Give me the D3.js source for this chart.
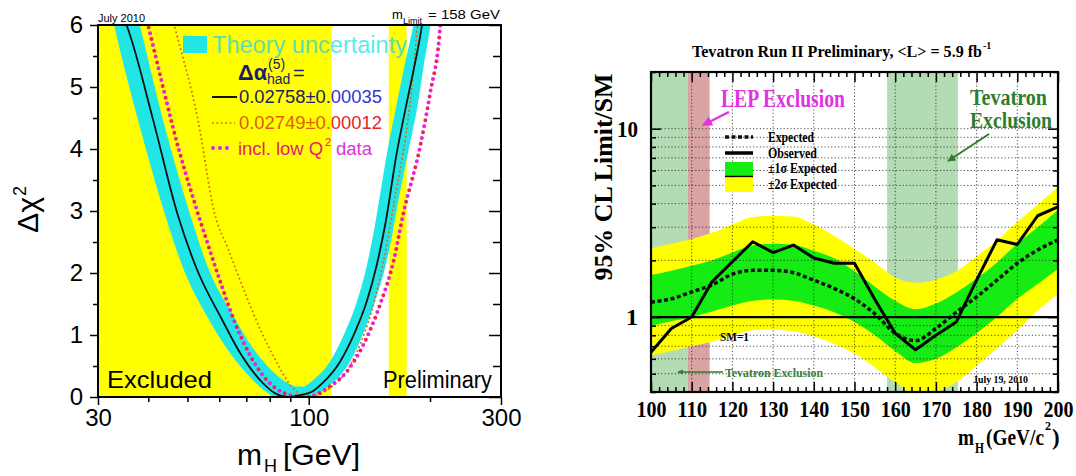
<!DOCTYPE html>
<html><head><meta charset="utf-8">
<script src="https://cdn.jsdelivr.net/npm/d3@7"></script>
<style>body{margin:0;background:#fff}svg{display:block}</style>
</head><body>
<svg id="c" width="1076" height="476"></svg>
<script>
// ================= LEFT CHART DATA (Δχ² vs mH) =================
const leftXTicks = [30, 100, 300];
const leftXMinor = [40, 50, 60, 70, 80, 90, 200];
const leftYTicks = [0, 1, 2, 3, 4, 5, 6];
const leftYMinor = [0.5, 1.5, 2.5, 3.5, 4.5, 5.5];
const excludedLEP = [30, 114];
const excludedTev = [158, 175];

const blackM   = [34.0, 35.3, 41.1, 47.2, 53.1, 60.7, 68.0, 76.3, 83.0, 89.0, 95.0, 101.5, 108.0, 119.6, 130.3, 139.3, 147.5, 154.7, 165.3, 175.0, 183.5, 190.7, 193.3];
const blackChi = [6.24, 6.0, 4.47, 2.96, 2.02, 1.27, 0.68, 0.25, 0.05, 0.0, 0.03, 0.08, 0.22, 0.57, 1.05, 1.54, 2.13, 2.77, 3.93, 4.74, 5.38, 5.97, 6.24];

const bandOuterM   = [31.9, 32.9, 37.7, 43.9, 49.2, 56.3, 64.2, 72.0, 79.3, 82.3, 90.0, 98.8, 112.8, 126.6, 136.6, 146.0, 154.6, 161.1, 166.2, 176.3, 186.7, 193.3, 200.1, 202.4];
const bandOuterChi = [6.4, 6.0, 4.47, 2.96, 2.02, 1.27, 0.68, 0.30, 0.06, 0.0, 0.0, 0.0, 0.19, 0.57, 1.03, 1.54, 2.08, 2.61, 3.1, 3.93, 4.74, 5.38, 5.97, 6.24];
const bandInnerM   = [36.8, 38.1, 43.5, 50.7, 56.8, 64.9, 72.7, 81.5, 88.8, 92.9, 96.8, 101.8, 112.8, 123.1, 131.7, 139.5, 146.0, 156.4, 165.5, 173.3, 181.5, 184.8];
const bandInnerChi = [6.4, 6.0, 4.47, 2.96, 2.02, 1.32, 0.79, 0.41, 0.22, 0.17, 0.17, 0.26, 0.57, 1.05, 1.54, 2.13, 2.77, 3.93, 4.74, 5.38, 5.97, 6.24];

const orangeM   = [45.3, 46.7, 53.1, 58.4, 63.0, 69.3, 76.3, 83.9, 90.5, 96.0, 101.0, 106.0, 110.9, 121.9, 134.0, 143.2, 150.1, 156.6, 162.2, 171.3, 178.4, 182.6, 185.9, 187.4];
const orangeChi = [6.24, 5.92, 4.47, 2.96, 2.4, 1.70, 1.05, 0.52, 0.17, 0.03, 0.0, 0.03, 0.11, 0.35, 0.84, 1.38, 1.91, 2.5, 3.07, 3.93, 4.74, 5.38, 5.97, 6.24];

const magentaM   = [39.1, 40.1, 47.9, 53.1, 56.3, 60.7, 65.5, 71.4, 79.3, 87.1, 94.0, 98.0, 102.5, 112.8, 124.3, 136.6, 150.1, 162.2, 171.6, 189.0, 200.1, 211.8, 213.0];
const magentaChi = [6.24, 5.95, 3.93, 2.96, 2.45, 1.81, 1.21, 0.68, 0.25, 0.06, 0.01, 0.0, 0.02, 0.17, 0.41, 0.84, 1.48, 2.18, 2.95, 4.04, 4.9, 5.97, 6.24];

// ================= RIGHT CHART DATA (Tevatron limit) =================
const massPoints = [100, 105, 110, 115, 120, 125, 130, 135, 140, 145, 150, 155, 160, 165, 170, 175, 180, 185, 190, 195, 200];
const observed   = [0.65, 0.87, 1.00, 1.54, 1.97, 2.51, 2.20, 2.41, 2.06, 1.93, 1.93, 1.24, 0.82, 0.67, 0.80, 0.94, 1.57, 2.57, 2.43, 3.45, 3.84];
const expected   = [1.20, 1.25, 1.36, 1.48, 1.69, 1.77, 1.77, 1.72, 1.57, 1.42, 1.25, 1.04, 0.82, 0.75, 0.87, 1.06, 1.28, 1.57, 1.93, 2.27, 2.57];
const sigma1Lo   = [0.90, 0.95, 1.00, 1.07, 1.15, 1.22, 1.24, 1.22, 1.15, 1.06, 0.94, 0.80, 0.66, 0.57, 0.60, 0.69, 0.82, 1.00, 1.25, 1.50, 1.80];
const sigma1Hi   = [1.67, 1.76, 1.87, 2.00, 2.20, 2.40, 2.45, 2.42, 2.25, 2.05, 1.75, 1.45, 1.22, 1.10, 1.18, 1.35, 1.60, 1.95, 2.45, 3.00, 3.70];
const sigma2Lo   = [0.625, 0.66, 0.70, 0.74, 0.80, 0.85, 0.86, 0.84, 0.79, 0.72, 0.64, 0.54, 0.45, 0.39, 0.40, 0.45, 0.55, 0.68, 0.85, 1.08, 1.33];
const sigma2Hi   = [2.32, 2.45, 2.60, 2.80, 3.10, 3.40, 3.45, 3.42, 3.10, 2.70, 2.30, 1.95, 1.62, 1.52, 1.58, 1.75, 2.10, 2.55, 3.20, 3.95, 4.90];
const rightXTicks = [100, 110, 120, 130, 140, 150, 160, 170, 180, 190, 200];
const rightYTicks = [1, 10];
const rightYMinor = [0.4, 0.5, 0.6, 0.7, 0.8, 0.9, 2, 3, 4, 5, 6, 7, 8, 9, 20];
const rightGrid   = [0.5, 0.6, 0.7, 0.8, 0.9, 2, 3, 4, 5, 6, 7, 8, 9, 10];
const tevExclLow  = [100, 109];
const lepExcl     = [109, 114.4];
const tevExclHigh = [158, 175.4];

// ================= helpers =================
const svg = d3.select("#c");
const defs = svg.append("defs");
function txt(g, x, y, s, o = {}) {
  const t = g.append("text").attr("x", x).attr("y", y).text(s)
    .attr("font-family", o.ff || "Liberation Sans")
    .attr("font-size", o.fs || 12)
    .attr("font-weight", o.fw || "normal")
    .attr("fill", o.fill || "#000")
    .attr("text-anchor", o.anchor || "start");
  if (o.len) t.attr("textLength", o.len).attr("lengthAdjust", "spacingAndGlyphs");
  if (o.clip) t.attr("clip-path", `url(#${o.clip})`);
  if (o.transform) t.attr("transform", o.transform);
  return t;
}
function marker(id, color) {
  defs.append("marker").attr("id", id).attr("viewBox", "0 0 10 10")
    .attr("refX", 9).attr("refY", 5).attr("markerWidth", 4).attr("markerHeight", 4)
    .attr("orient", "auto").attr("markerUnits", "strokeWidth")
    .append("path").attr("d", "M0,0L10,5L0,10z").attr("fill", color);
}

// ================= LEFT CHART =================
const xL = d3.scaleLog().domain([30, 300]).range([98, 501]);
const yL = d3.scaleLinear().domain([0, 6]).range([397, 25]);
const gL = svg.append("g");

defs.append("clipPath").attr("id", "clipL").append("rect")
  .attr("x", xL(30)).attr("y", yL(6)).attr("width", xL(300) - xL(30)).attr("height", yL(0) - yL(6));
const cy = defs.append("clipPath").attr("id", "clipYel");
[excludedLEP, excludedTev].forEach(r => cy.append("rect").attr("x", xL(r[0])).attr("y", 0)
  .attr("width", xL(r[1]) - xL(r[0])).attr("height", 476));
const cw = defs.append("clipPath").attr("id", "clipWht");
cw.append("rect").attr("x", xL(excludedLEP[1])).attr("y", 0).attr("width", xL(excludedTev[0]) - xL(excludedLEP[1])).attr("height", 476);
cw.append("rect").attr("x", xL(excludedTev[1])).attr("y", 0).attr("width", 600 - xL(excludedTev[1])).attr("height", 476);

[excludedLEP, excludedTev].forEach(r => gL.append("rect")
  .attr("x", xL(r[0])).attr("y", yL(6)).attr("width", xL(r[1]) - xL(r[0]))
  .attr("height", yL(0) - yL(6)).attr("fill", "#ffff00"));

const zipL = (ms, vs) => ms.map((m, i) => [m, vs[i]]);
const lineL = d3.line().curve(d3.curveMonotoneX).x(d => xL(d[0])).y(d => yL(d[1]));
const aboveL = d3.area().curve(d3.curveMonotoneX).x(d => xL(d[0])).y0(-80).y1(d => yL(d[1]));

// theory band = region between outer (lower) and inner (upper) envelopes
const mask = defs.append("mask").attr("id", "bandMask").attr("maskUnits", "userSpaceOnUse")
  .attr("x", 0).attr("y", -100).attr("width", 1076).attr("height", 600);
mask.append("path").attr("d", aboveL(zipL(bandOuterM, bandOuterChi))).attr("fill", "#fff");
mask.append("path").attr("d", aboveL(zipL(bandInnerM, bandInnerChi))).attr("fill", "#000");

const gc = gL.append("g").attr("clip-path", "url(#clipL)");
gc.append("rect").attr("x", xL(30)).attr("y", yL(6)).attr("width", xL(300) - xL(30))
  .attr("height", yL(0) - yL(6)).attr("fill", "#22e6e6").attr("mask", "url(#bandMask)");
gc.append("path").attr("d", lineL(zipL(orangeM, orangeChi))).attr("fill", "none")
  .attr("stroke", "#d86a10").attr("stroke-width", 1.7).attr("stroke-dasharray", "1.8,2.6");
gc.append("path").attr("d", lineL(zipL(magentaM, magentaChi))).attr("fill", "none")
  .attr("stroke", "#ec1ee0").attr("stroke-width", 4).attr("stroke-linecap", "round").attr("stroke-dasharray", "0,12");
gc.append("path").attr("d", lineL(zipL(magentaM, magentaChi))).attr("fill", "none")
  .attr("stroke", "#f5205a").attr("stroke-width", 4).attr("stroke-linecap", "round")
  .attr("stroke-dasharray", "0,12").attr("stroke-dashoffset", -6);
gc.append("path").attr("d", lineL(zipL(blackM, blackChi))).attr("fill", "none")
  .attr("stroke", "#111").attr("stroke-width", 1.8);

// legend (left)
gL.append("rect").attr("x", 183).attr("y", 36).attr("width", 24).attr("height", 17).attr("fill", "#22e6e6");
function twoTone(x, y, s, cY, cW, o) {
  txt(gL, x, y, s, Object.assign({}, o, { fill: cY, clip: "clipYel" }));
  txt(gL, x, y, s, Object.assign({}, o, { fill: cW, clip: "clipWht" }));
}
twoTone(212, 53, "Theory uncertainty", "#62dcb0", "#5ceaea", { fs: 23.5, len: 195 });
txt(gL, 238, 80, "Δα", { fs: 22, fw: "bold", fill: "#1c1c6a", len: 29 });
txt(gL, 268, 69, "(5)", { fs: 14, fill: "#1c1c6a" });
txt(gL, 267, 84, "had", { fs: 14, fill: "#1c1c6a" });
txt(gL, 293, 80, "=", { fs: 20, fill: "#1c1c6a" });
gL.append("line").attr("x1", 212).attr("x2", 237).attr("y1", 97).attr("y2", 97).attr("stroke", "#111").attr("stroke-width", 2);
twoTone(239, 103, "0.02758±0.00035", "#1c1c6a", "#3535d0", { fs: 17.5, len: 143 });
gL.append("line").attr("x1", 212).attr("x2", 235).attr("y1", 123).attr("y2", 123)
  .attr("stroke", "#d86a10").attr("stroke-width", 1.7).attr("stroke-dasharray", "1.8,2.6");
twoTone(239, 129, "0.02749±0.00012", "#e65a10", "#e02828", { fs: 17.5, len: 143 });
gL.append("line").attr("x1", 213).attr("x2", 234).attr("y1", 148).attr("y2", 148)
  .attr("stroke", "#ec1ee0").attr("stroke-width", 4).attr("stroke-linecap", "round").attr("stroke-dasharray", "0,7");
twoTone(238, 155, "incl. low Q", "#e8206e", "#e030e0", { fs: 17.5, len: 85 });
twoTone(325, 146, "2", "#e8206e", "#e030e0", { fs: 11 });
twoTone(336, 155, "data", "#e8206e", "#e030e0", { fs: 17.5, len: 36 });

txt(gL, 107, 388, "Excluded", { fs: 24, len: 105 });
txt(gL, 383, 388, "Preliminary", { fs: 23, len: 109 });
txt(gL, 98, 22, "July 2010", { fs: 11, len: 47 });
txt(gL, 392, 19, "m", { fs: 13 });
txt(gL, 403, 24, "Limit", { fs: 9 });
txt(gL, 428, 19, "= 158 GeV", { fs: 13, len: 72 });

// axes (left)
function styleAxis(g, fam, size, weight) {
  g.select(".domain").remove();
  g.attr("font-family", fam).attr("font-size", size).attr("font-weight", weight || "normal");
  g.selectAll("line").attr("stroke", "#000").attr("stroke-width", 1.5);
  g.selectAll("text").attr("fill", "#000");
  return g;
}
styleAxis(gL.append("g").attr("transform", `translate(${xL(30)},0)`)
  .call(d3.axisLeft(yL).tickValues(leftYTicks).tickSize(8).tickPadding(7).tickFormat(d3.format("d"))), "Liberation Sans", 24);
styleAxis(gL.append("g").attr("transform", `translate(${xL(30)},0)`)
  .call(d3.axisLeft(yL).tickValues(leftYMinor).tickSize(5).tickFormat("")), "Liberation Sans", 24);
styleAxis(gL.append("g").attr("transform", `translate(${xL(300)},0)`)
  .call(d3.axisRight(yL).tickValues(leftYTicks).tickSize(-12).tickFormat("")), "Liberation Sans", 24);
styleAxis(gL.append("g").attr("transform", `translate(${xL(300)},0)`)
  .call(d3.axisRight(yL).tickValues(leftYMinor).tickSize(-8).tickFormat("")), "Liberation Sans", 24);
styleAxis(gL.append("g").attr("transform", `translate(0,${yL(0)})`)
  .call(d3.axisBottom(xL).tickValues(leftXTicks).tickSize(8).tickPadding(4).tickFormat(d3.format("d"))), "Liberation Sans", 24);
styleAxis(gL.append("g").attr("transform", `translate(0,${yL(0)})`)
  .call(d3.axisBottom(xL).tickValues(leftXMinor).tickSize(5).tickFormat("")), "Liberation Sans", 24);

gL.append("rect").attr("x", xL(30)).attr("y", yL(6)).attr("width", xL(300) - xL(30))
  .attr("height", yL(0) - yL(6)).attr("fill", "none").attr("stroke", "#000").attr("stroke-width", 2);

// axis titles (left)
const yt = gL.append("g").attr("transform", "translate(38,233) rotate(-90)");
txt(yt, 0, 0, "Δχ", { fs: 29, len: 36 });
txt(yt, 37, -12, "2", { fs: 18 });
txt(gL, 237, 465, "m", { fs: 30 });
txt(gL, 264, 472, "H", { fs: 18 });
txt(gL, 283, 465, "[GeV]", { fs: 30, len: 77 });

// ================= RIGHT CHART =================
const xR = d3.scaleLinear().domain([100, 200]).range([651, 1058]);
const yR = d3.scaleLog().domain([0.4, 20]).range([392, 72]);
const gR = svg.append("g");
defs.append("clipPath").attr("id", "clipR").append("rect")
  .attr("x", xR(100)).attr("y", yR(20)).attr("width", xR(200) - xR(100)).attr("height", yR(0.4) - yR(20));
const gp = gR.append("g").attr("clip-path", "url(#clipR)");

[[tevExclLow, "#b4dcb4"], [lepExcl, "#d9a3a3"], [tevExclHigh, "#b4dcb4"]].forEach(([r, c]) =>
  gp.append("rect").attr("x", xR(r[0])).attr("y", yR(20)).attr("width", xR(r[1]) - xR(r[0]))
    .attr("height", yR(0.4) - yR(20)).attr("fill", c));

const rows = massPoints.map((m, i) => ({ m, obs: observed[i], exp: expected[i],
  l1: sigma1Lo[i], h1: sigma1Hi[i], l2: sigma2Lo[i], h2: sigma2Hi[i] }));
gp.append("path").datum(rows).attr("fill", "#ffff00")
  .attr("d", d3.area().curve(d3.curveMonotoneX).x(d => xR(d.m)).y0(d => yR(d.l2)).y1(d => yR(d.h2)));
gp.append("path").datum(rows).attr("fill", "#14ec14")
  .attr("d", d3.area().curve(d3.curveMonotoneX).x(d => xR(d.m)).y0(d => yR(d.l1)).y1(d => yR(d.h1)));

// grid
rightGrid.forEach(v => gp.append("line").attr("x1", xR(100)).attr("x2", xR(200)).attr("y1", yR(v)).attr("y2", yR(v))
  .attr("stroke", "#222").attr("stroke-width", 0.8).attr("stroke-dasharray", "1.2,2.2"));
rightXTicks.slice(1, -1).forEach(v => gp.append("line").attr("x1", xR(v)).attr("x2", xR(v)).attr("y1", yR(20)).attr("y2", yR(0.4))
  .attr("stroke", "#222").attr("stroke-width", 0.8).attr("stroke-dasharray", "1.2,2.2"));

gp.append("path").datum(rows).attr("fill", "none").attr("stroke", "#111").attr("stroke-width", 3.5)
  .attr("stroke-dasharray", "4,2.6").attr("d", d3.line().curve(d3.curveMonotoneX).x(d => xR(d.m)).y(d => yR(d.exp)));
gp.append("path").datum(rows).attr("fill", "none").attr("stroke", "#000").attr("stroke-width", 3)
  .attr("stroke-linejoin", "round").attr("d", d3.line().x(d => xR(d.m)).y(d => yR(d.obs)));
gp.append("line").attr("x1", xR(100)).attr("x2", xR(200)).attr("y1", yR(1)).attr("y2", yR(1))
  .attr("stroke", "#000").attr("stroke-width", 2.2);

// legend (right)
const serif = "Liberation Serif";
gR.append("line").attr("x1", 725).attr("x2", 753).attr("y1", 137).attr("y2", 137)
  .attr("stroke", "#111").attr("stroke-width", 3.5).attr("stroke-dasharray", "4,2.5");
gR.append("line").attr("x1", 725).attr("x2", 753).attr("y1", 153).attr("y2", 153)
  .attr("stroke", "#000").attr("stroke-width", 3.5);
gR.append("rect").attr("x", 725).attr("y", 162).attr("width", 28).attr("height", 14).attr("fill", "#14ec14");
gR.append("line").attr("x1", 725).attr("x2", 753).attr("y1", 176.5).attr("y2", 176.5).attr("stroke", "#000").attr("stroke-width", 1.5);
gR.append("rect").attr("x", 725).attr("y", 178).attr("width", 28).attr("height", 14).attr("fill", "#ffff00");
txt(gR, 768, 142, "Expected", { ff: serif, fw: "bold", fs: 15, len: 46 });
txt(gR, 768, 158, "Observed", { ff: serif, fw: "bold", fs: 15, len: 49 });
txt(gR, 768, 173, "±1σ Expected", { ff: serif, fw: "bold", fs: 15, len: 69 });
txt(gR, 768, 189, "±2σ Expected", { ff: serif, fw: "bold", fs: 15, len: 69 });

txt(gR, 721, 107, "LEP Exclusion", { ff: serif, fw: "bold", fs: 26, len: 124, fill: "#e233e0" });
txt(gR, 970, 105, "Tevatron", { ff: serif, fw: "bold", fs: 24, len: 77, fill: "#2f7d2f" });
txt(gR, 970, 128, "Exclusion", { ff: serif, fw: "bold", fs: 24, len: 82, fill: "#2f7d2f" });
marker("arM", "#e233e0"); marker("arG", "#2f7d2f");
gR.append("line").attr("x1", 729).attr("y1", 112).attr("x2", 703).attr("y2", 125)
  .attr("stroke", "#e233e0").attr("stroke-width", 2.5).attr("marker-end", "url(#arM)");
gR.append("line").attr("x1", 989).attr("y1", 134).attr("x2", 948).attr("y2", 161)
  .attr("stroke", "#2f7d2f").attr("stroke-width", 2).attr("marker-end", "url(#arG)");
gR.append("line").attr("x1", 723).attr("y1", 372).attr("x2", 678).attr("y2", 372)
  .attr("stroke", "#2f7d2f").attr("stroke-width", 1.3).attr("marker-end", "url(#arG)");
txt(gR, 725, 377, "Tevatron Exclusion", { ff: serif, fw: "bold", fs: 13, len: 98, fill: "#3a7d3a" });
txt(gR, 720, 341, "SM=1", { ff: serif, fw: "bold", fs: 13, len: 29 });
txt(gR, 973, 383, "July 19, 2010", { ff: serif, fw: "bold", fs: 11, len: 55 });

txt(gR, 692, 57, "Tevatron Run II Preliminary, <L> = 5.9 fb", { ff: serif, fw: "bold", fs: 16, len: 290 });
txt(gR, 983, 49, "-1", { ff: serif, fw: "bold", fs: 10 });

// axes (right)
const minorX = d3.range(100, 201, 2).filter(v => v % 10 !== 0);
function rAxis(t, ax) { return styleAxis(gR.append("g").attr("transform", t).call(ax), serif, 24, "bold"); }
const bx = rAxis(`translate(0,${yR(0.4)})`, d3.axisBottom(xR).tickValues(rightXTicks).tickSize(-10).tickPadding(8).tickFormat(d3.format("d")));
bx.selectAll("text").attr("textLength", 30).attr("lengthAdjust", "spacingAndGlyphs");
rAxis(`translate(0,${yR(0.4)})`, d3.axisBottom(xR).tickValues(minorX).tickSize(-5).tickFormat(""));
rAxis(`translate(0,${yR(20)})`, d3.axisTop(xR).tickValues(rightXTicks).tickSize(-10).tickFormat(""));
rAxis(`translate(0,${yR(20)})`, d3.axisTop(xR).tickValues(minorX).tickSize(-5).tickFormat(""));
const ly = rAxis(`translate(${xR(100)},0)`, d3.axisLeft(yR).tickValues(rightYTicks).tickSize(-10).tickPadding(13).tickFormat(d3.format("d")));
ly.selectAll("text").filter(d => d === 10).attr("textLength", 21).attr("lengthAdjust", "spacingAndGlyphs");
rAxis(`translate(${xR(100)},0)`, d3.axisLeft(yR).tickValues(rightYMinor).tickSize(-5).tickFormat(""));
rAxis(`translate(${xR(200)},0)`, d3.axisRight(yR).tickValues(rightYTicks).tickSize(-10).tickFormat(""));
rAxis(`translate(${xR(200)},0)`, d3.axisRight(yR).tickValues(rightYMinor).tickSize(-5).tickFormat(""));

gR.append("rect").attr("x", xR(100)).attr("y", yR(20)).attr("width", xR(200) - xR(100))
  .attr("height", yR(0.4) - yR(20)).attr("fill", "none").attr("stroke", "#000").attr("stroke-width", 2.2);

// axis titles (right)
txt(gR, 0, 0, "95% CL Limit/SM", { ff: serif, fw: "bold", fs: 25, len: 207, anchor: "middle",
  transform: "translate(612,177) rotate(-90)" });
txt(gR, 958, 445, "m", { ff: serif, fw: "bold", fs: 23, len: 16 });
txt(gR, 975, 453, "H", { ff: serif, fw: "bold", fs: 14, len: 9 });
txt(gR, 986, 445, "(GeV/c", { ff: serif, fw: "bold", fs: 23, len: 58 });
txt(gR, 1045, 430, "2", { ff: serif, fw: "bold", fs: 12 });
txt(gR, 1052, 445, ")", { ff: serif, fw: "bold", fs: 23 });
</script>
</body></html>
